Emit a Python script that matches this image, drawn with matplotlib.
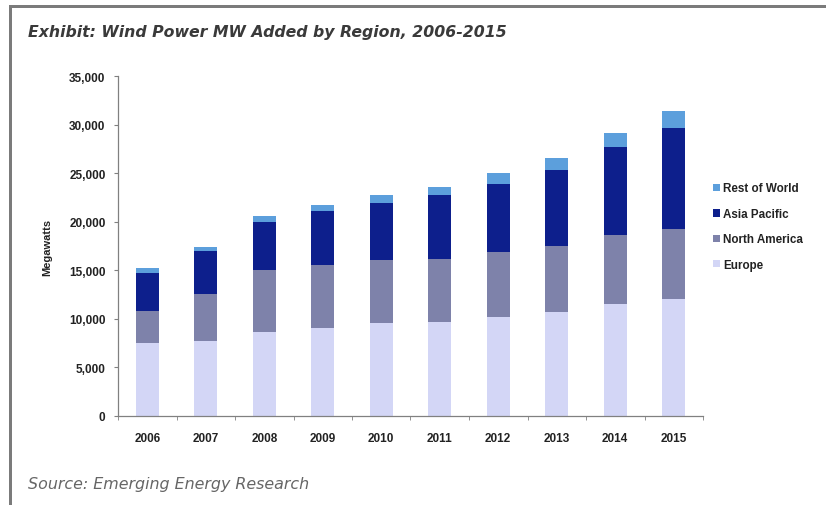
import numpy as np
import matplotlib.pyplot as plt
from matplotlib.patches import Rectangle

# Data (MW added per year, stacked by region)
years = ['2006', '2007', '2008', '2009', '2010', '2011', '2012', '2013', '2014', '2015']
europe = [7500, 7670, 8660, 9060, 9520, 9690, 10140, 10690, 11480, 12030]
north_america = [3300, 4830, 6390, 6500, 6530, 6500, 6740, 6770, 7120, 7250]
asia_pacific = [3900, 4500, 4890, 5600, 5880, 6560, 7040, 7870, 9100, 10350]
rest_of_world = [550, 350, 610, 520, 820, 830, 1100, 1200, 1440, 1750]

regions = ['Europe', 'North America', 'Asia Pacific', 'Rest of World']
colors = ['#d3d6f6', '#7e82aa', '#0d1f8c', '#5c9fdc']

fig = plt.figure(figsize=(8.26, 5.06), dpi=100)
fig.patch.set_facecolor('white')

# gray frame (top and left edges only, like the cropped screenshot)
fig.add_artist(Rectangle((9 / 826, 1 - 9 / 506), 1 - 9 / 826, 3 / 506,
                         transform=fig.transFigure, color='#7b7b7b', lw=0))
fig.add_artist(Rectangle((9 / 826, 0), 3 / 826, 1 - 6 / 506,
                         transform=fig.transFigure, color='#7b7b7b', lw=0))

fig.text(28 / 826, 1 - 33 / 506, 'Exhibit: Wind Power MW Added by Region, 2006-2015',
         fontsize=11.3, fontweight='bold', fontstyle='italic', family='DejaVu Sans',
         color='#3a3a3a', va='center', ha='left')
fig.text(28 / 826, 1 - 485 / 506, 'Source: Emerging Energy Research',
         fontsize=11.4, fontstyle='italic', family='DejaVu Sans',
         color='#666666', va='center', ha='left')

ax = fig.add_axes([118 / 826, 1 - 416.7 / 506, (703 - 118) / 826, (416.7 - 77.3) / 506])

x = np.arange(len(years))
series = [europe, north_america, asia_pacific, rest_of_world]
bottom = np.zeros(len(years))
handles = []
for name, vals, col in zip(regions, series, colors):
    b = ax.bar(x, vals, width=0.4, bottom=bottom, color=col, label=name, linewidth=0)
    handles.append(b)
    bottom += np.array(vals)

ax.set_xlim(-0.5, len(years) - 0.5)
ax.set_ylim(0, 35000)
ax.set_yticks(np.arange(0, 35001, 5000))
ax.set_yticklabels([f'{v:,}' for v in range(0, 35001, 5000)])
ax.set_xticks(x)
ax.set_xticklabels(years)
ax.set_xticks(np.arange(-0.5, len(years), 1), minor=True)
ax.tick_params(axis='x', which='major', length=0, pad=12)
ax.tick_params(axis='x', which='minor', length=3, color='#808080', direction='out')
ax.tick_params(axis='y', length=3, color='#808080', pad=6)
for lab in ax.get_xticklabels() + ax.get_yticklabels():
    lab.set_fontsize(8.5)
    lab.set_fontweight('bold')
    lab.set_family('Liberation Sans')
    lab.set_color('#222222')

for s in ['top', 'right']:
    ax.spines[s].set_visible(False)
for s in ['left', 'bottom']:
    ax.spines[s].set_color('#808080')
    ax.spines[s].set_linewidth(0.9)

ax.set_ylabel('Megawatts', fontsize=8, fontweight='bold', family='Liberation Sans',
              color='#222222', labelpad=12)

leg = fig.legend(handles[::-1], regions[::-1], loc='upper left',
                 bbox_to_anchor=(702 / 826, 1 - 173 / 506), frameon=False,
                 handlelength=0.6, handleheight=0.6, handletextpad=0.3,
                 labelspacing=1.15, prop={'family': 'Liberation Sans', 'size': 8.4,
                                          'weight': 'bold'})
for t in leg.get_texts():
    t.set_color('#222222')

fig.savefig('out.png', dpi=100)
